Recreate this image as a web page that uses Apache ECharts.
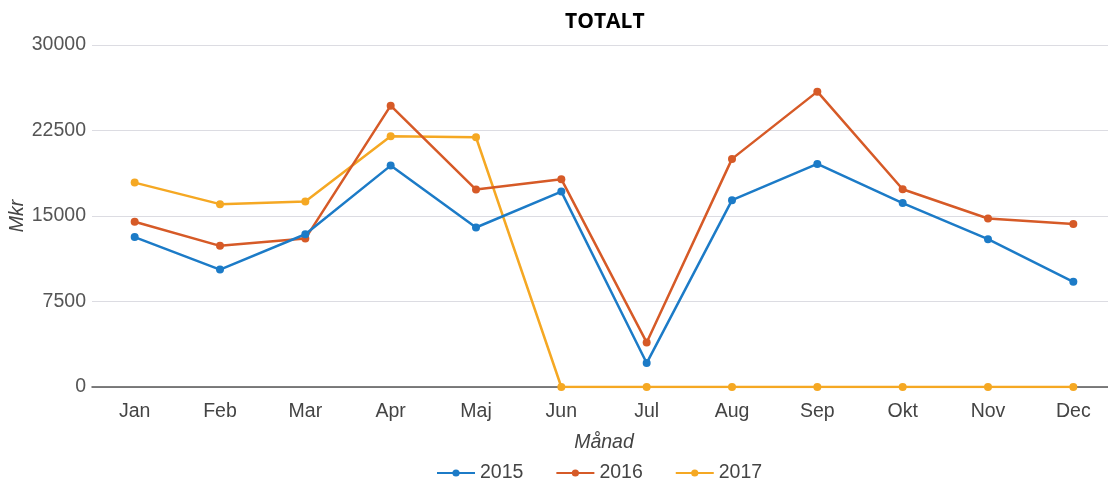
<!DOCTYPE html>
<html>
<head>
<meta charset="utf-8">
<script src="https://cdn.jsdelivr.net/npm/echarts@6/dist/echarts.min.js"></script>
<style>
  html, body { margin: 0; padding: 0; background: #fff; }
  #chart { width: 1108px; height: 485px; }
</style>
</head>
<body>
<div id="chart"></div>
<script>
var months = ['Jan', 'Feb', 'Mar', 'Apr', 'Maj', 'Jun', 'Jul', 'Aug', 'Sep', 'Okt', 'Nov', 'Dec'];
var years = ['2015', '2016', '2017'];
var data2015 = [13150, 10300, 13400, 19420, 13990, 17140, 2100, 16390, 19570, 16130, 12970, 9230];
var data2016 = [14490, 12380, 13020, 24680, 17320, 18230, 3910, 20010, 25910, 17350, 14780, 14290];
var data2017 = [17930, 16040, 16270, 22000, 21910, 0, 0, 0, 0, 0, 0, 0];
var colors = ['#1c7bc7', '#d65a27', '#f5a823'];

var chart = echarts.init(document.getElementById('chart'));

var labelFont = 'Liberation Sans';

function makeSeries(name, values, i) {
  return {
    name: name,
    type: 'line',
    data: values,
    symbol: 'circle',
    symbolSize: 8,
    lineStyle: { width: 2.5, color: colors[i] },
    itemStyle: { color: colors[i] },
    z: 3 - i
  };
}

chart.setOption({
  animation: false,
  title: {
    text: 'TOTALT',
    left: 560,
    top: 7,
    textStyle: { fontFamily: 'Open Sans', fontWeight: 'bold', fontSize: 21, color: '#000' }
  },
  legend: {
    top: 458,
    left: 431,
    itemWidth: 38,
    itemHeight: 9,
    itemGap: 32,
    textStyle: { fontSize: 19.5, color: '#444', fontFamily: labelFont },
    data: years
  },
  grid: { left: 92, right: -8, top: 45, bottom: 98, outerBoundsMode: 'none' },
  xAxis: {
    type: 'category',
    data: months,
    boundaryGap: true,
    name: 'Månad',
    nameLocation: 'middle',
    nameGap: 46,
    nameTextStyle: { fontStyle: 'italic', fontSize: 19.5, color: '#444', fontFamily: labelFont },
    axisLine: { lineStyle: { color: '#555', width: 1.5 } },
    axisTick: { show: false },
    axisLabel: { fontSize: 19.5, color: '#444', margin: 15, fontFamily: labelFont }
  },
  yAxis: {
    type: 'value',
    min: 0,
    max: 30000,
    interval: 7500,
    name: 'Mkr',
    nameLocation: 'middle',
    nameGap: 64,
    nameMoveOverlap: false,
    nameTextStyle: { fontStyle: 'italic', fontSize: 19.5, color: '#444', fontFamily: labelFont },
    axisLine: { show: false },
    axisTick: { show: false },
    axisLabel: {
      fontSize: 19.5, color: '#555', margin: 6, fontFamily: labelFont,
      formatter: function (v) { return String(v); }
    },
    splitLine: { lineStyle: { color: '#dcdce2', width: 1.2 } }
  },
  series: [
    makeSeries(years[0], data2015, 0),
    makeSeries(years[1], data2016, 1),
    makeSeries(years[2], data2017, 2)
  ]
});
</script>
</body>
</html>
